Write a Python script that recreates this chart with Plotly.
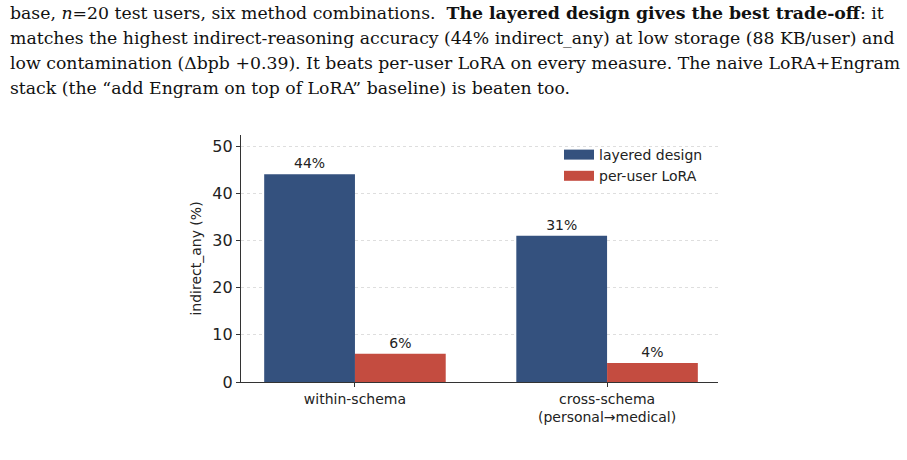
import plotly.graph_objects as go

categories = ["within-schema", "cross-schema<br>(personal→medical)"]
layered = [44, 31]
lora = [6, 4]
series_names = ["layered design", "per-user LoRA"]
y_ticks = [0, 10, 20, 30, 40, 50]
para_lines = [
    "base, <i>n</i>=20 test users, six method combinations.  <b>The layered design gives the best trade-off</b>: it",
    "matches the highest indirect-reasoning accuracy (44% indirect_any) at low storage (88 KB/user) and",
    "low contamination (Δbpb +0.39). It beats per-user LoRA on every measure. The naive LoRA+Engram",
    "stack (the “add Engram on top of LoRA” baseline) is beaten too.",
]

BLUE = "#34517E"
RED = "#C44C40"
colors = [BLUE, RED]

W, H = 907, 460
L, R, T, B = 241, 718, 135, 382  # plot area in pixels


def px(x):
    return (x - L) / (R - L)


def py(y):
    return (B - y) / (B - T)


fig = go.Figure()
for name, vals, col in zip(series_names, [layered, lora], colors):
    fig.add_trace(go.Bar(
        x=categories, y=vals, name=name, marker=dict(color=col, line=dict(width=0)),
        text=[f"{v}%" for v in vals], textposition="outside",
        textfont=dict(family="DejaVu Sans", size=14, color="#222"),
        cliponaxis=False, showlegend=False,
    ))
    # legend patch
    fig.add_trace(go.Scatter(
        x=[None], y=[None], mode="lines", name=name,
        line=dict(color=col, width=10), showlegend=True,
    ))

fig.update_layout(
    width=W, height=H,
    margin=dict(l=L, r=W - R, t=T, b=H - B, pad=0),
    paper_bgcolor="white", plot_bgcolor="white",
    barmode="group", bargap=0.28, bargroupgap=0,
    font=dict(family="DejaVu Sans", color="#222"),
    legend=dict(x=px(559), y=py(139), xanchor="left", yanchor="top",
                font=dict(size=14, family="DejaVu Sans", color="#222"),
                bgcolor="rgba(0,0,0,0)", itemwidth=30, tracegroupgap=0),
    uniformtext=dict(mode=False),
)
fig.update_xaxes(
    range=[-0.452, 1.44], showline=True, linecolor="#333", linewidth=1.3,
    ticks="outside", ticklen=4, tickcolor="#333", tickwidth=1.1,
    tickfont=dict(size=14, family="DejaVu Sans", color="#222"),
    showgrid=False, zeroline=False, fixedrange=True,
)
fig.update_yaxes(
    range=[0, 52.33], tickvals=y_ticks, showline=True, linecolor="#333", linewidth=1.3,
    ticks="outside", ticklen=4, tickcolor="#333", tickwidth=1.1,
    tickfont=dict(size=16, family="DejaVu Sans", color="#222"),
    showgrid=True, gridcolor="#dedede", griddash="dot", gridwidth=0.6,
    zeroline=False,
    title=dict(text="indirect_any (%)", font=dict(size=14, family="DejaVu Sans", color="#222"), standoff=7),
)

line_y = [13, 38, 63, 88]
for txt, yy in zip(para_lines, line_y):
    fig.add_annotation(
        text=txt, xref="paper", yref="paper", x=px(8), y=py(yy),
        xanchor="left", yanchor="middle", showarrow=False,
        font=dict(family="DejaVu Serif", size=17.3, color="#111"),
    )

fig.write_html("out.html")
